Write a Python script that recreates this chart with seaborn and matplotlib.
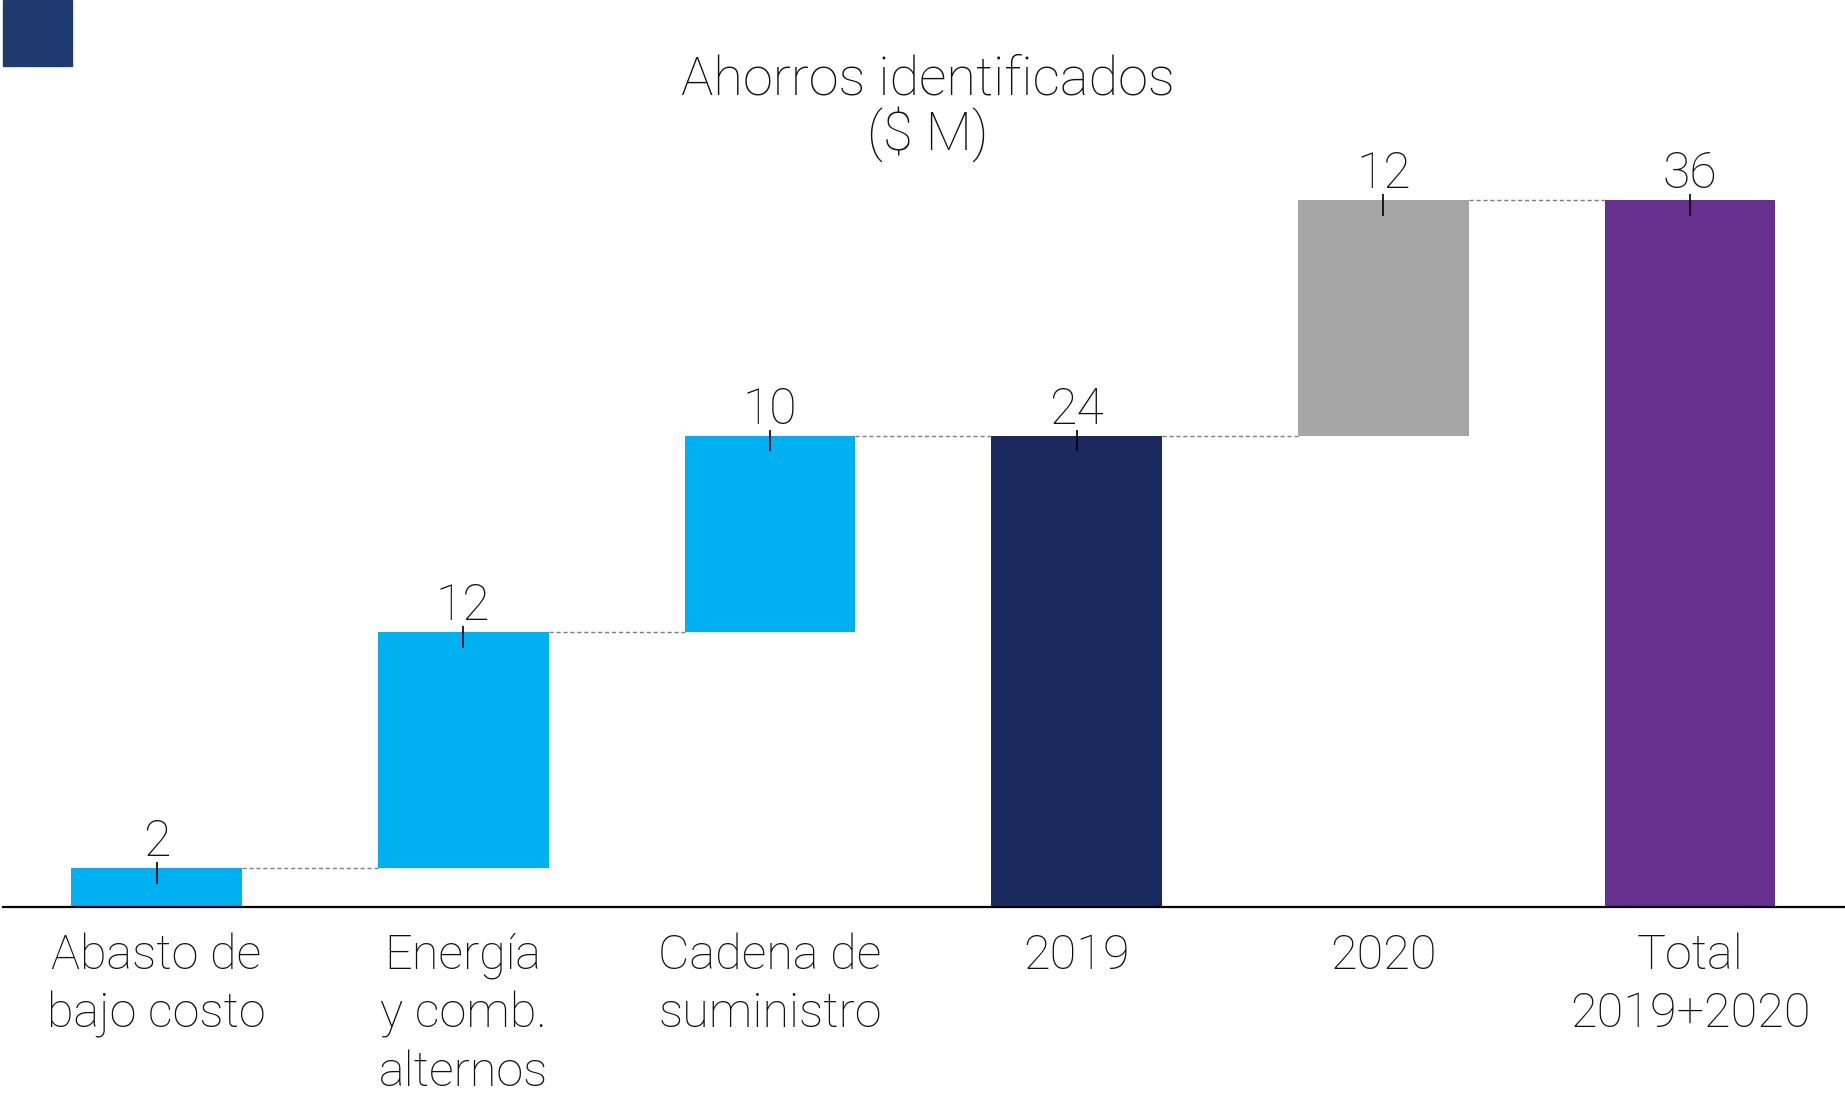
import matplotlib
matplotlib.use("Agg")
import matplotlib.pyplot as plt
import seaborn as sns
import pandas as pd
from matplotlib.patches import Rectangle

categories = ["Abasto de\nbajo costo", "Energía\ny comb.\nalternos", "Cadena de\nsuministro",
              "2019", "2020", "Total\n2019+2020"]
values = [2, 12, 10, 24, 12, 36]
is_total = [False, False, False, True, False, True]
bar_colors = ["#00B0F0", "#00B0F0", "#00B0F0", "#1A2A5E", "#A5A5A5", "#66308F"]

# running bottoms for the waterfall
bottoms = []
running = 0
for v, tot in zip(values, is_total):
    if tot:
        bottoms.append(0)
        running = v
    else:
        bottoms.append(running)
        running += v
tops = [b + v for b, v in zip(bottoms, values)]

sns.set_style("white")
plt.rcParams["font.family"] = ["Roboto", "DejaVu Sans"]

df = pd.DataFrame({"cat": categories, "value": values})

fig = plt.figure(figsize=(18.45, 10.93), dpi=100)
ax = fig.add_axes([0.0017, 0.170, 0.9975, 0.719])

sns.barplot(data=df, x="cat", y="value", hue="cat", order=categories,
            palette=dict(zip(categories, bar_colors)), saturation=1,
            width=0.556, legend=False, ax=ax)

for p in ax.patches:
    i = int(round(p.get_x() + p.get_width() / 2))
    p.set_y(bottoms[i])
    p.set_edgecolor("none")

half = 0.556 / 2
for i in range(len(values) - 1):
    level = tops[i]
    ax.plot([i + half, i + 1 - half], [level, level], color="#7F7F7F",
            linestyle=(0, (3, 2)), linewidth=1.0)

for i, t in enumerate(tops):
    ax.vlines(i, t - 0.8, t + 0.3, color="black", linewidth=1.2)
    ax.text(i, t + 0.6, str(values[i]), ha="center", va="baseline",
            fontsize=36, fontweight="light", color="#111111")

ax.set_xlim(-0.5, 5.5)
ax.set_ylim(0, 40)
ax.set_xlabel("")
ax.set_ylabel("")
ax.set_yticks([])
sns.despine(ax=ax, left=True)
ax.spines["bottom"].set_color("black")
ax.spines["bottom"].set_linewidth(1.6)
ax.tick_params(axis="x", length=0, pad=18)
for lab in ax.get_xticklabels():
    lab.set_fontsize(35)
    lab.set_fontweight("light")
    lab.set_color("#111111")
    lab.set_linespacing(1.33)

fig.text(0.503, 0.901, "Ahorros identificados\n($ M)", ha="center", va="center",
         fontsize=39, fontweight="light", color="#111111", linespacing=1.02)

fig.patches.append(Rectangle((0.0016, 1 - 66 / 1093), 69 / 1845, 66 / 1093,
                             transform=fig.transFigure, color="#1F3A6E"))

fig.savefig("out.png", dpi=100)
